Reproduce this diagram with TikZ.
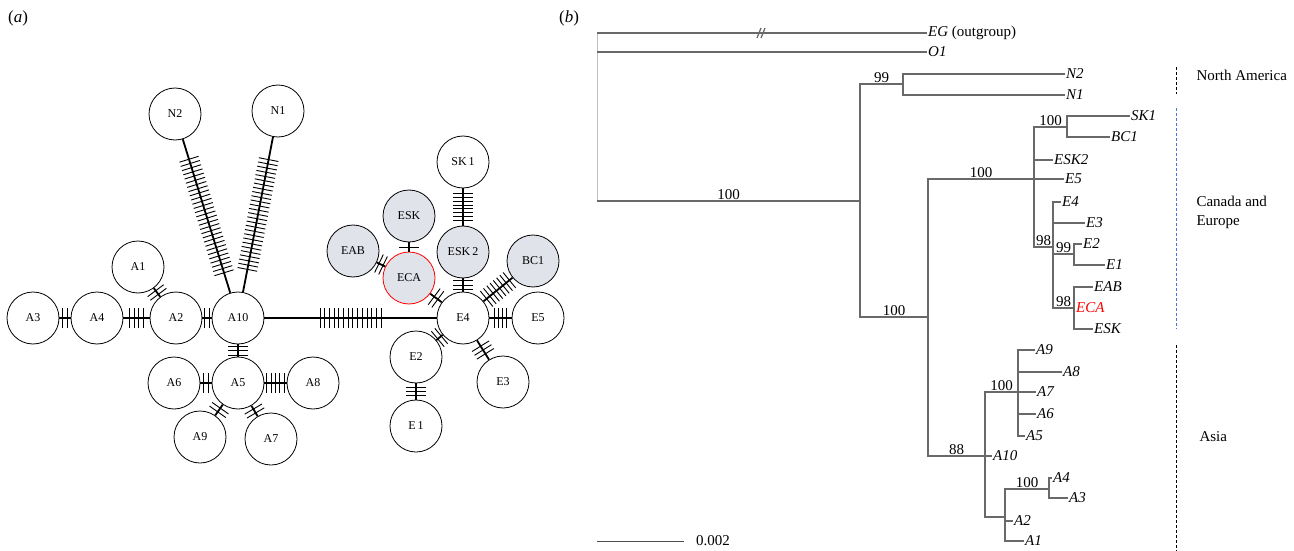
\documentclass[tikz,border=0pt]{standalone}
\usepackage{fontspec}
\setmainfont{Liberation Serif}
\usetikzlibrary{calc,positioning}
\definecolor{shade}{RGB}{225,227,234}
\definecolor{branch}{RGB}{105,105,105}
\definecolor{dashblue}{RGB}{70,120,220}

\begin{document}
\begin{tikzpicture}[x=1pt,y=-1pt,
  hap/.style={circle,draw,line width=0.8pt,minimum size=52pt,inner sep=0pt,font=\fontsize{12}{12}\selectfont},
  shared/.style={hap,fill=shade},
  edge/.style={line width=1.8pt},
  tick/.style={line width=0.9pt},
  br/.style={draw=branch,line width=1.3pt},
  leaf/.style={anchor=west,inner sep=1pt,font=\fontsize{15}{15}\selectfont\itshape},
  boot/.style={above,inner sep=1pt,font=\fontsize{15}{15}\selectfont},
  region/.style={anchor=west,align=left,font=\fontsize{15}{19}\selectfont},
  regline/.style={line width=1pt,dash pattern=on 3pt off 2pt}]
\useasboundingbox (0,0) rectangle (1294,551);

\node[font=\fontsize{17}{17}\selectfont] (pa) at (18,18) {(\textit{a})};
\node[font=\fontsize{17}{17}\selectfont] (pb) at (569,18) {(\textit{b})};

\node[hap] (N2) at (175,114) {N2};
\node[hap] (N1) at (278,111) {N1};
\node[hap] (A1) at (138,267) {A1};
\node[hap] (A3) at (33,318) {A3};
\node[hap] (A4) at (97,318) {A4};
\node[hap] (A2) at (176,318) {A2};
\node[hap] (A10) at (238,318) {A10};
\node[hap] (A6) at (174,383) {A6};
\node[hap] (A5) at (238,383) {A5};
\node[hap] (A8) at (313,383) {A8};
\node[hap] (A9) at (200,437) {A9};
\node[hap] (A7) at (271,439) {A7};
\node[hap] (SK1) at (463,162) {SK\,1};
\node[shared] (ESK) at (409,216) {ESK};
\node[shared] (EAB) at (353,251) {EAB};
\node[shared] (ESK2) at (463,252) {ESK\,2};
\node[shared,draw=red] (ECA) at (409,278) {ECA};
\node[shared] (BC1) at (533,261) {BC1};
\node[hap] (E4) at (463,318) {E4};
\node[hap] (E5) at (538,318) {E5};
\node[hap] (E2) at (416,357) {E2};
\node[hap] (E3) at (503,382) {E3};
\node[hap] (E1) at (416,426) {E\,1};

\foreach \ha/\hb/\nm/\dd in {A3/A4/2/4.5, A4/A2/4/4.5, A1/A2/2/4.5, A2/A10/2/4.5,
    N2/A10/28/4.4, N1/A10/27/4.3, A10/A5/3/4.5, A6/A5/2/4.5, A5/A8/5/4.4,
    A5/A9/2/4.5, A5/A7/2/4.5, A10/E4/14/4.7, EAB/ECA/2/4.5, ESK/ECA/1/4.5,
    ECA/E4/2/4.5, SK1/ESK2/8/3.8, ESK2/E4/3/4.2, BC1/E4/8/4.2, E4/E5/4/4.2,
    E4/E2/2/4.5, E4/E3/3/4.5, E2/E1/3/4.2}{
  \draw[edge] (\ha) -- (\hb);
  \foreach \i in {1,...,\nm}{
    \pgfmathsetmacro\off{(\i-(\nm+1)/2)*\dd}
    \coordinate (m) at ($(\ha)!0.5!(\hb)$);
    \coordinate (p) at ($(m)!\off pt!(\hb)$);
    \draw[tick] ($(p)!10pt!90:(\hb)$) -- ($(p)!10pt!-90:(\hb)$);
  }
}

\node[leaf] (tEG) at (927,33) {EG \upshape(outgroup)};
\node[leaf] (tO1) at (927,52) {O1};
\node[leaf] (tN2) at (1065,74) {N2};
\node[leaf] (tN1) at (1065,95) {N1};
\node[leaf] (tSK1) at (1130,116) {SK1};
\node[leaf] (tBC1) at (1110,137) {BC1};
\node[leaf] (tESK2) at (1053,160) {ESK2};
\node[leaf] (tE5) at (1064,179) {E5};
\node[leaf] (tE4) at (1061,202) {E4};
\node[leaf] (tE3) at (1085,223) {E3};
\node[leaf] (tE2) at (1082,244) {E2};
\node[leaf] (tE1) at (1105,265) {E1};
\node[leaf] (tEAB) at (1093,287) {EAB};
\node[leaf,text=red] (tECA) at (1075,308) {ECA};
\node[leaf] (tESK) at (1093,329) {ESK};
\node[leaf] (tA9) at (1035,350) {A9};
\node[leaf] (tA8) at (1062,372) {A8};
\node[leaf] (tA7) at (1036,392) {A7};
\node[leaf] (tA6) at (1036,414) {A6};
\node[leaf] (tA5) at (1025,436) {A5};
\node[leaf] (tA10) at (992,456) {A10};
\node[leaf] (tA4) at (1052,478) {A4};
\node[leaf] (tA3) at (1068,498) {A3};
\node[leaf] (tA2) at (1013,521) {A2};
\node[leaf] (tA1) at (1024,541) {A1};

\coordinate (r) at (597,201);
\coordinate (nA) at (860,201);
\coordinate (n99) at (903,84);
\coordinate (nB) at (928,317);
\coordinate (nC) at (1034,179);
\coordinate (nSB) at (1067,127);
\coordinate (nE) at (1053,247);
\coordinate (n99b) at (1074,254);
\coordinate (n98b) at (1074,308);
\coordinate (nD) at (985,456);
\coordinate (nAs) at (1018,392);
\coordinate (nF) at (1005,517);
\coordinate (nG) at (1049,489);

\draw[black!25,line width=0.8pt] (r |- tEG) -- (r);
\draw[br] (r |- tEG) -- (tEG);
\draw[br] (757,38) -- (761,28) (761,38) -- (765,28);
\draw[br] (r |- tO1) -- (tO1);
\draw[br] (r) -- node[boot]{100} (nA);
\draw[br] (nA) |- node[boot,pos=0.75]{99} (n99);
\draw[br] (n99) |- (tN2);
\draw[br] (n99) |- (tN1);
\draw[br] (nA) |- node[boot,pos=0.75]{100} (nB);
\draw[br] (nB) |- node[boot,pos=0.75]{100} (nC);
\draw[br] (nC) |- node[boot,pos=0.75]{100} (nSB);
\draw[br] (nSB) |- (tSK1);
\draw[br] (nSB) |- (tBC1);
\draw[br] (nC) |- (tESK2);
\draw[br] (nC) |- (tE5);
\draw[br] (nC) |- node[boot,pos=0.75]{98} (nE);
\draw[br] (nE) |- (tE4);
\draw[br] (nE) |- (tE3);
\draw[br] (nE) |- node[boot,pos=0.75]{99} (n99b);
\draw[br] (n99b) |- (tE2);
\draw[br] (n99b) |- (tE1);
\draw[br] (nE) |- node[boot,pos=0.75]{98} (n98b);
\draw[br] (n98b) |- (tEAB);
\draw[br] (n98b) -- (tECA);
\draw[br] (n98b) |- (tESK);
\draw[br] (nB) |- node[boot,pos=0.75]{88} (nD);
\draw[br] (nD) |- node[boot,pos=0.75]{100} (nAs);
\draw[br] (nAs) |- (tA9);
\draw[br] (nAs) |- (tA8);
\draw[br] (nAs) |- (tA7);
\draw[br] (nAs) |- (tA6);
\draw[br] (nAs) |- (tA5);
\draw[br] (nD) -- (tA10);
\draw[br] (nD) |- (nF);
\draw[br] (nF) |- node[boot,pos=0.75]{100} (nG);
\draw[br] (nG) |- (tA4);
\draw[br] (nG) |- (tA3);
\draw[br] (nF) |- (tA2);
\draw[br] (nF) |- (tA1);

\coordinate (sb) at (597,541);
\node[anchor=west,inner sep=0pt,font=\fontsize{15}{15}\selectfont] (sbl) at (696,541) {0.002};
\draw[black!70,line width=1pt] (sb) -- ++(87,0);

\draw[regline] (1176,67) -- (1176,94);
\draw[regline,dashblue] (1176,108) -- (1176,329);
\draw[regline] (1176,345) -- (1176,551);
\node[region] (na) at (1193,75) {North America};
\node[region] (ce) at (1193,212) {Canada and\\Europe};
\node[region] (as) at (1196,437) {Asia};
\end{tikzpicture}
\end{document}
